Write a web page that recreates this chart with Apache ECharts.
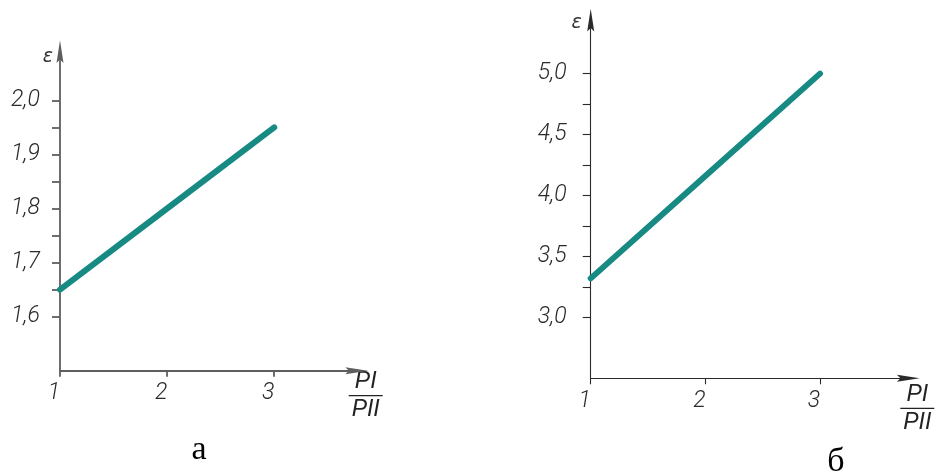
<!DOCTYPE html>
<html>
<head>
<meta charset="utf-8">
<script src="https://cdn.jsdelivr.net/npm/echarts@6/dist/echarts.min.js"></script>
<style>
html,body{margin:0;padding:0;background:#fff;}
#c{width:936px;height:476px;}
</style>
</head>
<body>
<div id="c"></div>
<script>
// Data
var xValues = [1, 2, 3];
var xTickLabels = [1, 2, 3];
var seriesA = [1.65, 1.80, 1.95];
var seriesB = [3.32, 4.16, 5.00];
var yLabelsA = [1.6, 1.7, 1.8, 1.9, 2.0];
var yTicksA = [1.6, 1.65, 1.7, 1.75, 1.8, 1.85, 1.9, 1.95, 2.0];
var yLabelsB = [3.0, 3.5, 4.0, 4.5, 5.0];
var yTicksB = [3.0, 3.25, 3.5, 3.75, 4.0, 4.25, 4.5, 4.75, 5.0];
var yName = 'ε';
var captions = ['а', 'б'];

function pairs(ys) { return xValues.map(function (x, i) { return [x, ys[i]]; }); }
function fmt(v) { return v.toFixed(1).replace('.', ','); }

var labelFont = { fontFamily: 'Roboto', fontStyle: 'italic', fontWeight: 300, fontSize: 23, color: '#2a2a2a' };
var teal = '#178a84';
var arrowSym = 'path://M5,0 L9,26 L5,22 L1,26 Z';

function xAxisCfg(gi, lineColor, lineW, padTop) {
  return {
    type: 'value', gridIndex: gi, min: 1, max: 3.77,
    name: '{t|PI}\n{l| }\n{t|PII}',
    nameLocation: 'end', nameGap: 9,
    nameTextStyle: {
      align: 'center', verticalAlign: 'top', padding: [padTop, 0, 0, 0],
      rich: {
        t: { fontFamily: 'Liberation Sans', fontStyle: 'italic', fontSize: 23, lineHeight: 22, color: '#222', align: 'center' },
        l: { width: 34, height: 1.3, lineHeight: 6, backgroundColor: '#222', fontSize: 1, align: 'center' }
      }
    },
    splitLine: { show: false },
    axisLine: { show: true, onZero: false, symbol: ['none', arrowSym], symbolSize: [7, 26], lineStyle: { color: lineColor, width: lineW } },
    axisTick: { show: true, customValues: xTickLabels, length: 6, lineStyle: { color: lineColor, width: lineW } },
    axisLabel: Object.assign({ customValues: xTickLabels, margin: 11, padding: [0, 12, 0, 0], formatter: function (v) { return String(v); } }, labelFont)
  };
}
function yAxisCfg(gi, mn, mx, labs, ticks, lineColor, lineW, margin, nameGap, namePadR) {
  return {
    type: 'value', gridIndex: gi, min: mn, max: mx,
    name: yName, nameLocation: 'end', nameGap: nameGap,
    nameTextStyle: { align: 'right', verticalAlign: 'middle', padding: [0, namePadR, 0, 0], fontFamily: 'DejaVu Sans', fontStyle: 'italic', fontSize: 19, color: '#333' },
    splitLine: { show: false },
    axisLine: { show: true, onZero: false, symbol: ['none', arrowSym], symbolSize: [7, 26], lineStyle: { color: lineColor, width: lineW } },
    axisTick: { show: true, customValues: ticks, length: 8, lineStyle: { color: lineColor, width: lineW } },
    axisLabel: Object.assign({ customValues: labs, margin: margin, formatter: fmt }, labelFont)
  };
}

var chart = echarts.init(document.getElementById('c'), null, { renderer: 'canvas' });
chart.setOption({
  backgroundColor: '#fff',
  animation: false,
  grid: [
    { left: 60, top: 51.7, width: 296.7, height: 319, containLabel: false, outerBoundsMode: 'none' },
    { left: 590.7, top: 20, width: 317.6, height: 358.3, containLabel: false, outerBoundsMode: 'none' }
  ],
  xAxis: [xAxisCfg(0, '#5e5e5e', 1.8, 0), xAxisCfg(1, '#2a2a2a', 1.1, 5)],
  yAxis: [
    yAxisCfg(0, 1.5, 2.09, yLabelsA, yTicksA, '#5e5e5e', 1.8, 20, -5, 7),
    yAxisCfg(1, 2.5, 5.44, yLabelsB, yTicksB, '#2a2a2a', 1.1, 24, -3, 9)
  ],
  series: [
    { type: 'line', xAxisIndex: 0, yAxisIndex: 0, data: pairs(seriesA), symbol: 'none', lineStyle: { color: teal, width: 6, cap: 'round' } },
    { type: 'line', xAxisIndex: 1, yAxisIndex: 1, data: pairs(seriesB), symbol: 'none', lineStyle: { color: teal, width: 6, cap: 'round' } }
  ],
  graphic: [
    { type: 'text', x: 199, y: 450, style: { text: captions[0], font: '34px "Liberation Serif"', fill: '#000', align: 'center', verticalAlign: 'middle' } },
    { type: 'text', x: 836, y: 462, style: { text: captions[1], font: '34px "Liberation Serif"', fill: '#000', align: 'center', verticalAlign: 'middle' } }
  ]
});
</script>
</body>
</html>
